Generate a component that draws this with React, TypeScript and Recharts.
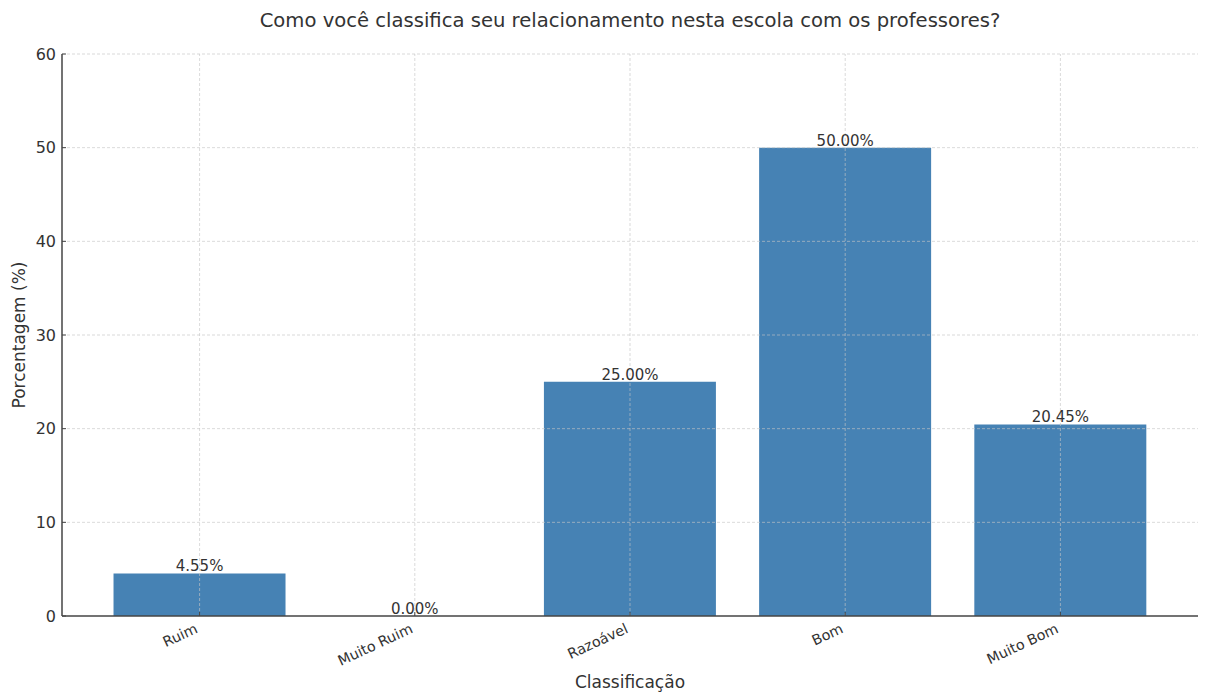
import React from 'react';
import { ComposedChart, Bar, Line, XAxis, YAxis, ReferenceLine, LabelList } from 'recharts';

const categories = ['Ruim', 'Muito Ruim', 'Razoável', 'Bom', 'Muito Bom'];
const percentages = [4.55, 0.0, 25.0, 50.0, 20.45];
const yTicks = [0, 10, 20, 30, 40, 50, 60];

const data = categories.map((name, i) => ({ name, value: percentages[i] }));

const FONT = '"DejaVu Sans", sans-serif';
const TEXT = '#333333';
const AXIS = '#444444';
const GRID = '#c4c4c4';

const W = 1207;
const H = 695;
const MARGIN = { top: 54, right: 9, bottom: 0, left: 12 };

const YTick = (props: any) => {
  const { x, y, payload } = props;
  return (
    <g>
      <line x1={x + 6} x2={x + 10} y1={y} y2={y} stroke={AXIS} strokeWidth={1} />
      <text x={x} y={y} dy="0.35em" textAnchor="end" fontSize={16} fill={TEXT} fontFamily={FONT}>
        {payload.value}
      </text>
    </g>
  );
};

const XTick = (props: any) => {
  const { x, y, payload } = props;
  const tx = x - 1;
  const ty = y + 16;
  return (
    <g>
      <line x1={x} x2={x} y1={y} y2={y - 4} stroke={AXIS} strokeWidth={1} />
      <text
        x={tx}
        y={ty}
        textAnchor="end"
        fontSize={14.3}
        fill={TEXT}
        fontFamily={FONT}
        transform={`rotate(-25, ${tx}, ${ty})`}
      >
        {payload.value}
      </text>
    </g>
  );
};

export default function App() {
  return (
    <div style={{ position: 'absolute', left: 0, top: 0, width: W, height: H, background: '#fff' }}>
      <ComposedChart width={W} height={H} data={data} margin={MARGIN} barCategoryGap="10%">
        <XAxis
          dataKey="name"
          height={79}
          tick={<XTick />}
          tickLine={false}
          tickSize={0}
          tickMargin={0}
          padding={{ left: 30, right: 30 }}
          axisLine={{ stroke: AXIS, strokeWidth: 1.5 }}
          interval={0}
        />
        <YAxis
          width={50}
          domain={[0, 60]}
          ticks={yTicks}
          tick={<YTick />}
          tickLine={false}
          tickSize={0}
          tickMargin={6}
          axisLine={{ stroke: AXIS, strokeWidth: 1.5 }}
          interval={0}
        />
        <Bar dataKey="value" fill="#4682B4" isAnimationActive={false} />
        {yTicks
          .filter((t) => t > 0)
          .map((t) => (
            <ReferenceLine
              key={`h${t}`}
              y={t}
              stroke={GRID}
              strokeOpacity={0.8}
              strokeDasharray="3 2"
              strokeWidth={0.8}
            />
          ))}
        {categories.map((c) => (
          <ReferenceLine
            key={`v${c}`}
            x={c}
            stroke={GRID}
            strokeOpacity={0.8}
            strokeDasharray="3 2"
            strokeWidth={0.8}
          />
        ))}
        <Line
          dataKey="value"
          stroke="none"
          dot={false}
          activeDot={false}
          isAnimationActive={false}
        >
          <LabelList
            dataKey="value"
            position="top"
            offset={2}
            formatter={(v: any) => `${Number(v).toFixed(2)}%`}
            style={{ fontSize: 15, fill: TEXT, fontFamily: FONT }}
          />
        </Line>
      </ComposedChart>
      <svg
        width={W}
        height={H}
        style={{ position: 'absolute', left: 0, top: 0, pointerEvents: 'none' }}
      >
        <text x={630} y={27} textAnchor="middle" fontSize={19.6} fill={TEXT} fontFamily={FONT}>
          Como você classifica seu relacionamento nesta escola com os professores?
        </text>
        <text x={630} y={688} textAnchor="middle" fontSize={17} fill={TEXT} fontFamily={FONT}>
          Classificação
        </text>
        <text
          x={25}
          y={335}
          textAnchor="middle"
          fontSize={17}
          fill={TEXT}
          fontFamily={FONT}
          transform="rotate(-90, 25, 335)"
        >
          Porcentagem (%)
        </text>
      </svg>
    </div>
  );
}
